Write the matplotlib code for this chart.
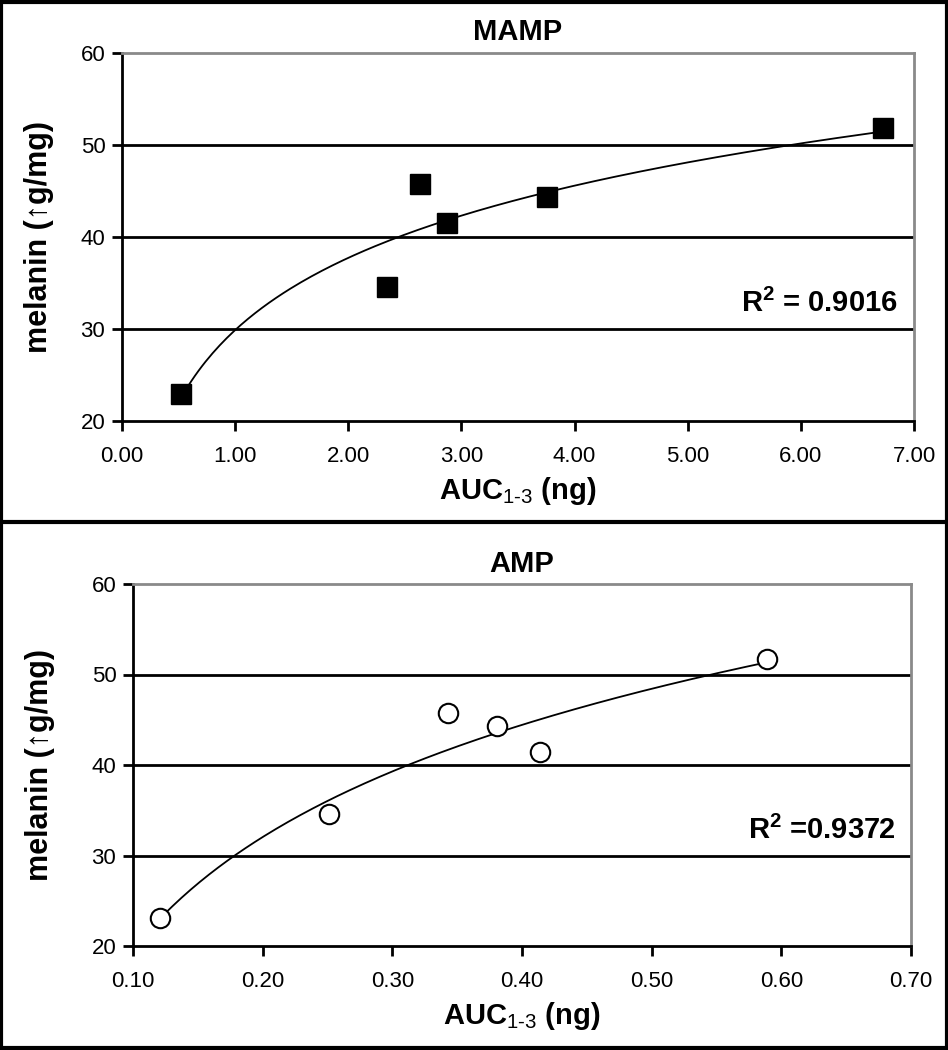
import numpy as np
import matplotlib
matplotlib.use("Agg")
import matplotlib.pyplot as plt
from matplotlib.patches import Rectangle
from matplotlib.lines import Line2D

plt.rcParams['font.family'] = ['Liberation Sans', 'DejaVu Sans']
plt.rcParams['mathtext.fontset'] = 'custom'
plt.rcParams['mathtext.rm'] = 'Liberation Sans'
plt.rcParams['mathtext.bf'] = 'Liberation Sans:bold'
plt.rcParams['mathtext.default'] = 'regular'

# melanin (ug/mg) vs AUC 1-3 (ng)
mamp_auc = [0.52, 2.34, 2.63, 2.87, 3.76, 6.73]
mamp_melanin = [22.9, 34.6, 45.8, 41.5, 44.4, 51.8]
mamp_r2 = "0.9016"

amp_auc = [0.121, 0.251, 0.343, 0.381, 0.414, 0.589]
amp_melanin = [23.1, 34.6, 45.7, 44.3, 41.4, 51.7]
amp_r2 = "0.9372"

mamp_xticks = [0, 1, 2, 3, 4, 5, 6, 7]
amp_xticks = [0.1, 0.2, 0.3, 0.4, 0.5, 0.6, 0.7]
yticks = [20, 30, 40, 50, 60]

W, H = 948, 1050
fig = plt.figure(figsize=(W / 100, H / 100), dpi=100)

def px_axes(l, r, t, b):
    return fig.add_axes([l / W, 1 - b / H, (r - l) / W, (b - t) / H])

def style(ax, title, xticks, xfmt, ylabel_x):
    ax.set_ylim(20, 60)
    ax.set_yticks(yticks)
    ax.set_xticks(xticks)
    ax.set_xticklabels([xfmt.format(v) for v in xticks])
    ax.set_xlim(xticks[0], xticks[-1])
    for y in [30, 40, 50]:
        ax.axhline(y, color='black', lw=2.0, zorder=1)
    for s in ['left', 'bottom']:
        ax.spines[s].set_color('black')
        ax.spines[s].set_linewidth(2.0)
    for s in ['top', 'right']:
        ax.spines[s].set_color('#8a8a8a')
        ax.spines[s].set_linewidth(2.0)
    ax.tick_params(axis='both', direction='out', length=7, width=2,
                   labelsize=16, pad=5, colors='black')
    ax.tick_params(axis='x', pad=11)
    ax.set_title(title, fontsize=21, fontweight='bold', pad=9)
    ax.set_ylabel('melanin (\u2191g/mg)', fontsize=22, fontweight='bold')
    ax.yaxis.set_label_coords(ylabel_x, 0.5)
    ax.set_xlabel(r'AUC$_{\mathrm{1\text{-}3}}$ (ng)', fontsize=21,
                  fontweight='bold', labelpad=6)

def trend(ax, x, y):
    x = np.asarray(x)
    a, b = np.polyfit(np.log(x), y, 1)
    xs = np.linspace(x.min(), x.max(), 200)
    ax.plot(xs, a * np.log(xs) + b, color='black', lw=1.3, zorder=2)

# top panel
ax1 = px_axes(122, 914, 53, 421)
style(ax1, 'MAMP', mamp_xticks, '{:.2f}', -0.086)
trend(ax1, mamp_auc, mamp_melanin)
ax1.plot(mamp_auc, mamp_melanin, 's', color='black', ms=15, zorder=3,
         clip_on=False)
ax1.text(0.98, 0.296, r'R$^2$ = ' + mamp_r2, transform=ax1.transAxes,
         ha='right', va='baseline', fontsize=21, fontweight='bold')

# bottom panel
ax2 = px_axes(133, 911, 584, 946)
style(ax2, 'AMP', amp_xticks, '{:.2f}', -0.1)
trend(ax2, amp_auc, amp_melanin)
ax2.plot(amp_auc, amp_melanin, 'o', mfc='white', mec='black', mew=1.5,
         ms=14, zorder=3, clip_on=False)
ax2.text(0.98, 0.296, r'R$^2$ =' + amp_r2, transform=ax2.transAxes,
         ha='right', va='baseline', fontsize=21, fontweight='bold')

# outer frame and separator
fig.add_artist(Rectangle((0.0015, 0.0015), 0.997, 0.997, transform=fig.transFigure,
                         fill=False, ec='black', lw=3))
fig.add_artist(Line2D([0, 1], [1 - 522 / H, 1 - 522 / H], transform=fig.transFigure,
                      color='black', lw=3))

fig.savefig('out.png', dpi=100)
